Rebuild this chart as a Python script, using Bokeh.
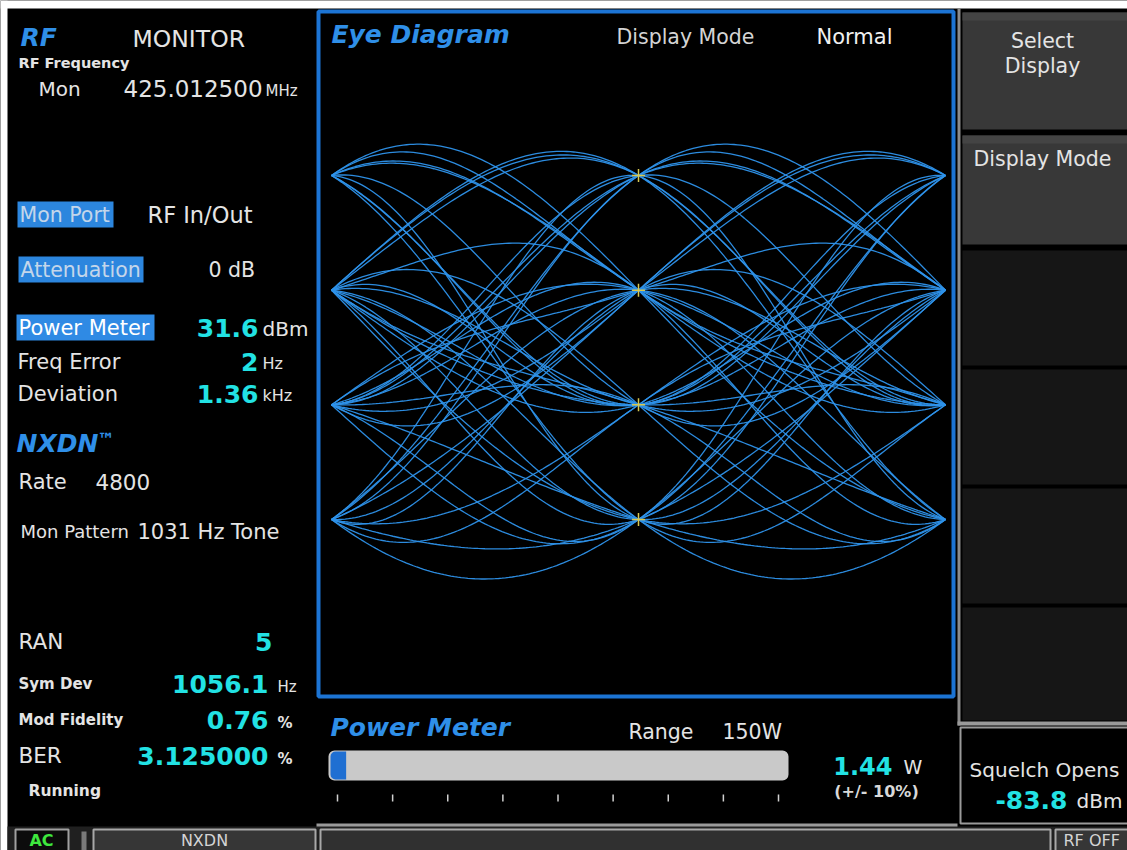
import numpy as np
from bokeh.plotting import figure
from bokeh.models import Range1d
from bokeh.core.properties import value
from bokeh.embed import file_html
from bokeh.resources import INLINE

# ---------------- data ----------------
RF_FREQ_MHZ = "425.012500"
SYMBOL_LEVELS_HZ = [1050, 350, -350, -1050]          # NXDN 4-level FSK deviations
SYMBOLS = [3, -1, 1, 3, -3, -1, 1, 1, -3, 3, 1, -1, -3, -3, 1, 3, -1, 3, 1, -1,
           -1, -3, 3, -3, 1, -1, 3, 1, -1, 1, -3, 1, -1, -3, 3, 1, -3, -1, 1, -1,
           1, -3, -3, 1, -1, 1, 3, -1]
ROLLOFF = 0.42
POWER_RANGE_W = [0, 150]
POWER_W = [1.44]
POWER_TICKS_W = [0, 18.75, 37.5, 56.25, 75, 93.75, 112.5, 131.25, 150]

MEAS_LABELS = ["Freq Error", "Deviation"]
MEAS_VALUES = ["2", "1.36"]
MEAS_UNITS = ["Hz", "kHz"]
RESULT_LABELS = ["RAN", "Sym Dev", "Mod Fidelity", "BER"]
RESULT_VALUES = ["5", "1056.1", "0.76", "3.125000"]
RESULT_UNITS = ["", "Hz", "%", "%"]

# ---------------- colours / fonts ----------------
FONT = "DejaVu Sans"
WHITE = "#e4e4e4"
BLUE_T = "#2f8fe8"
CYAN = "#22e2e4"
HILITE = "#2c86de"
EYE_LINE = "#2e92ea"
FRAME = "#1c74d4"

W, H = 1127, 850
p = figure(width=W, height=H, x_range=Range1d(0, W), y_range=Range1d(H, 0),
           output_backend="svg", toolbar_location=None, min_border=0,
           x_axis_type=None, y_axis_type=None,
           background_fill_color="black", border_fill_color="black",
           outline_line_color=None)
p.grid.grid_line_color = None

# eye diagram scales: t in symbols (0 at x=331, 2 at x=945); deviation in Hz
T0_PX, T2_PX = 331.0, 945.0
PX_PER_SYM = (T2_PX - T0_PX) / 2
TOP_LVL_PX, BOT_LVL_PX = 175.0, 519.0
HZ_PER_PX = (SYMBOL_LEVELS_HZ[0] - SYMBOL_LEVELS_HZ[-1]) / (BOT_LVL_PX - TOP_LVL_PX)
MID_PX = (TOP_LVL_PX + BOT_LVL_PX) / 2
p.extra_x_ranges["eye_t"] = Range1d((0 - T0_PX) / PX_PER_SYM, (W - T0_PX) / PX_PER_SYM)
p.extra_y_ranges["eye_f"] = Range1d((MID_PX - H) * HZ_PER_PX, (MID_PX - 0) * HZ_PER_PX)

# power meter scale: 0 W at x=337, 150 W at x=778
PM0_PX, PM1_PX = 337.0, 778.0
PX_PER_W = (PM1_PX - PM0_PX) / (POWER_RANGE_W[1] - POWER_RANGE_W[0])
p.extra_x_ranges["pm_w"] = Range1d((0 - PM0_PX) / PX_PER_W, (W - PM0_PX) / PX_PER_W)


def txt(x, y, s, size, color=WHITE, style="normal", align="left", **kw):
    p.text(x=[x], y=[y], text=[s], text_font=value(FONT), text_font_size=f"{size}px",
           text_color=color, text_font_style=style, text_align=align,
           text_baseline="middle", **kw)


def box(l, r, t, b, fill, line=None, lw=1, **kw):
    p.quad(left=[l], right=[r], top=[t], bottom=[b], fill_color=fill,
           line_color=line, line_width=lw, **kw)


# page margin of the screenshot
box(0, W, 0, 8, "white")
box(0, 7, 0, H, "white")

# ---------------- left panel ----------------
txt(20, 37, "RF", 25, BLUE_T, "bold italic")
txt(132, 38, "MONITOR", 23.5)
txt(18, 62, "RF Frequency", 14.5, WHITE, "bold")
txt(38, 88, "Mon", 20)
txt(123, 88, RF_FREQ_MHZ, 23)
txt(265, 90, "MHz", 15)

box(17, 113, 201, 227, HILITE)
txt(19, 214, "Mon Port", 20.5, "#c4d6ea")
txt(147, 214, "RF In/Out", 22.5)
box(18, 143, 256, 282, HILITE)
txt(20, 269, "Attenuation", 20.5, "#c4d6ea")
txt(208, 269, "0 dB", 20.5)

box(16, 154, 314, 340, "#2f8ae4")
txt(18, 327, "Power Meter", 21, "white")
txt(258, 327, "31.6", 25, CYAN, "bold", "right")
txt(262, 328, "dBm", 20)
for i, (lab, val, unit) in enumerate(zip(MEAS_LABELS, MEAS_VALUES, MEAS_UNITS)):
    y = 361 + 32 * i
    txt(17, y, lab, 21)
    txt(258, y, val, 25, CYAN, "bold", "right")
    txt(262, y + 2, unit, 16)

txt(16, 443, "NXDN", 25, BLUE_T, "bold italic")
txt(97, 438, "\u2122", 17, BLUE_T, "bold italic")
txt(18, 481, "Rate", 21)
txt(95, 481, "4800", 21.5)
txt(20, 531, "Mon Pattern", 18)
txt(137, 531, "1031 Hz Tone", 21)

res_y = [641, 683, 719, 755]
res_lab_size = [21.5, 15, 15, 21.5]
res_lab_style = ["normal", "bold", "bold", "normal"]
res_val_right = [272, 268, 268, 268]
for lab, val, unit, y, sz, st, xr in zip(RESULT_LABELS, RESULT_VALUES, RESULT_UNITS,
                                          res_y, res_lab_size, res_lab_style, res_val_right):
    txt(18, y, lab, sz, WHITE, st)
    txt(xr, y, val, 25, CYAN, "bold", "right")
    if unit:
        txt(277, y + 3, unit, 15, WHITE, "bold" if unit == "%" else "normal")
txt(28, 790, "Running", 15.5, WHITE, "bold")

# ---------------- eye diagram ----------------
box(318, 953, 11, 696, None, FRAME, 4, fill_alpha=0)
txt(331, 34, "Eye Diagram", 25, BLUE_T, "bold italic")
txt(616, 36, "Display Mode", 20.5, "#d4d4d4")
txt(816, 36, "Normal", 21, "#f0f0f0")

sym = np.array(SYMBOLS, float)
n = len(sym)
tiled = np.tile(sym, 7)
idx = np.arange(tiled.size)
unit_hz = SYMBOL_LEVELS_HZ[0] / 3.0
tt = np.linspace(0.0, 2.0, 181)


def rc_pulse(t):
    t = np.asarray(t, float)
    den = 1 - (2 * ROLLOFF * t) ** 2
    sing = np.abs(den) < 1e-9
    safe = np.where(sing, 1.0, den)
    val = np.sinc(t) * np.cos(np.pi * ROLLOFF * t) / safe
    return np.where(sing, np.pi / 4 * np.sinc(1 / (2 * ROLLOFF)), val)


xs, ys = [], []
for k in range(n):
    tabs = 3 * n + k + tt
    v = (tiled[None, :] * rc_pulse(tabs[:, None] - idx[None, :])).sum(axis=1)
    xs.append(tt.tolist())
    ys.append((v * unit_hz).tolist())

p.multi_line(xs=xs, ys=ys, line_color=EYE_LINE, line_width=1.3, line_alpha=0.95,
             x_range_name="eye_t", y_range_name="eye_f")
p.scatter(x=[1.0] * len(SYMBOL_LEVELS_HZ), y=SYMBOL_LEVELS_HZ, marker="cross", size=13,
          line_color="#d8c850", line_width=1.5,
          x_range_name="eye_t", y_range_name="eye_f")

# ---------------- power meter ----------------
txt(330, 727, "Power Meter", 25, BLUE_T, "bold italic")
txt(628, 731, "Range", 20.5)
txt(722, 731, f"{POWER_RANGE_W[1]}W", 20.5)
box(328, 788, 750, 780, "#c9c9c9", border_radius=6)
p.quad(left=[(330 - PM0_PX) / PX_PER_W], right=[POWER_W[0] + 1.5], top=[751], bottom=[779],
       fill_color="#1f6fd2", line_color=None, x_range_name="pm_w",
       border_radius={"top_left": 5, "bottom_left": 5, "top_right": 0, "bottom_right": 0})
p.segment(x0=POWER_TICKS_W, x1=POWER_TICKS_W, y0=[794] * len(POWER_TICKS_W),
          y1=[801] * len(POWER_TICKS_W), line_color="#d0d0d0", line_width=1.5,
          x_range_name="pm_w")
txt(892, 765, f"{POWER_W[0]:.2f}", 24, CYAN, "bold", "right")
txt(903, 766, "W", 19)
txt(876, 791, "(+/- 10%)", 16, "#d8d8d8", "bold", "center")

# separators around power meter
box(316, 957, 823, 827, "#9a9a9a")

# ---------------- right soft-key column ----------------
box(957, 960, 8, 725, "#8c8c8c")
box(962, W, 12, 129, "#383838")
box(962, W, 12, 20, "#444444")
box(962, W, 135, 244, "#383838")
box(962, W, 135, 143, "#444444")
for t, b in [(250, 365), (369, 484), (488, 603), (607, 720)]:
    box(962, W, t, b, "#161616")
txt(1042, 40, "Select", 20.5, WHITE, align="center")
txt(1042, 65, "Display", 20.5, WHITE, align="center")
txt(1042, 158, "Display Mode", 20.5, WHITE, align="center")

box(957, W, 721, 725, "#9a9a9a")
box(960, W + 2, 727, 823, "black", "#9a9a9a", 2)
txt(1044, 769, "Squelch Opens", 20, WHITE, align="center")
txt(1067, 799, "-83.8", 25, CYAN, "bold", "right")
txt(1076, 800, "dBm", 20)

# ---------------- bottom status bar ----------------
box(7, W, 826, H, "#202020")
box(15, 68, 829, H + 2, "#0c0c0c", "#a0a0a0", 2)
txt(41, 840, "AC", 16, "#3ee83e", "bold", "center")
box(81, 86, 831, H, "#7a7a7a")
box(93, 315, 829, H + 2, "#363636", "#a8a8a8", 2)
txt(204, 840, "NXDN", 16, "#d4d4d4", align="center")
box(320, 1050, 829, H + 2, "#303030", "#a8a8a8", 2)
box(1055, W + 2, 829, H + 2, "#363636", "#a8a8a8", 2)
txt(1063, 840, "RF OFF", 16, "#d4d4d4")

open("out.html", "w").write(file_html(p, INLINE))
